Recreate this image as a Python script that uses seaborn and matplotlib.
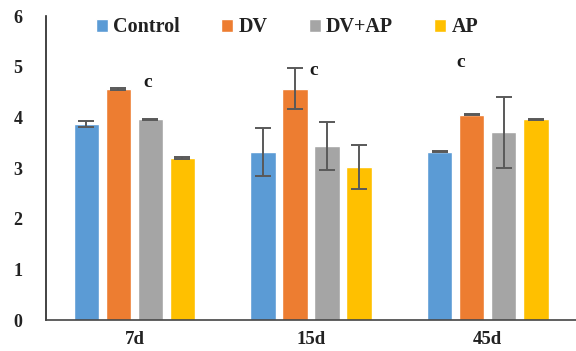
import matplotlib
matplotlib.use("Agg")
import matplotlib.pyplot as plt
import seaborn as sns
import pandas as pd
import numpy as np

days = ["7d", "15d", "45d"]
groups = ["Control", "DV", "DV+AP", "AP"]
control = [3.87, 3.32, 3.32]
dv = [4.57, 4.57, 4.05]
dvap = [3.96, 3.44, 3.71]
ap = [3.20, 3.02, 3.96]
control_err = [0.06, 0.48, 0.01]
dv_err = [0.02, 0.41, 0.01]
dvap_err = [0.01, 0.48, 0.70]
ap_err = [0.01, 0.43, 0.01]
sig_labels = ["c", "c", "c"]
sig_x = [0.074, 1.014, 1.847]
sig_y = [4.69, 4.93, 5.09]

colors = ["#5B9BD5", "#ED7D31", "#A5A5A5", "#FFC000"]

rows = []
for g, vals, errs in zip(groups, [control, dv, dvap, ap],
                         [control_err, dv_err, dvap_err, ap_err]):
    for d, v, e in zip(days, vals, errs):
        rows.append({"day": d, "group": g, "value": v, "err": e})
df = pd.DataFrame(rows)

sns.set_style("white")
plt.rcParams["font.family"] = ["Liberation Serif", "DejaVu Serif"]

fig = plt.figure(figsize=(5.76, 3.51), dpi=100)
ax = fig.add_axes([0.080, 0.088, 0.92, 0.866])

sns.barplot(data=df, x="day", y="value", hue="group", order=days,
            hue_order=groups, palette=colors, errorbar=None,
            width=0.725, gap=0.2, ax=ax, saturation=1)

# error bars on each bar
for container, g in zip(ax.containers, groups):
    sub = df[df.group == g].set_index("day").loc[days]
    xs = [p.get_x() + p.get_width() / 2 for p in container]
    ax.errorbar(xs, sub["value"].values, yerr=sub["err"].values,
                fmt="none", ecolor="#595959", elinewidth=1.4,
                capsize=5.5, capthick=1.4, zorder=5)

# significance letters
for xv, lab, yv in zip(sig_x, sig_labels, sig_y):
    ax.text(xv, yv, lab, ha="center", va="center", fontsize=14,
            fontweight="bold", color="#1a1a1a")

ax.set_ylim(0, 6)
ax.set_xlim(-0.5, 2.5)
ax.set_yticks(range(0, 7))
ax.set_xlabel("")
ax.set_ylabel("")
for s in ["top", "right"]:
    ax.spines[s].set_visible(False)
ax.spines["left"].set_color("#222222")
ax.spines["left"].set_linewidth(1.2)
ax.spines["bottom"].set_color("#444444")
ax.spines["bottom"].set_linewidth(1.2)
ax.tick_params(axis="y", length=0, pad=17, labelsize=13)
ax.tick_params(axis="x", length=0, pad=8, labelsize=13.5)
for t in ax.get_xticklabels() + ax.get_yticklabels():
    t.set_fontweight("bold")
    t.set_color("#222222")

leg = ax.legend(loc="center", bbox_to_anchor=(0.455, 0.963), ncol=4,
                frameon=False, handlelength=0.6, handleheight=0.6,
                handletextpad=0.25, columnspacing=2.05,
                prop={"family": ["Liberation Serif"], "weight": "bold", "size": 14.5})
for t in leg.get_texts():
    t.set_color("#222222")

fig.savefig("out.png", dpi=100)
